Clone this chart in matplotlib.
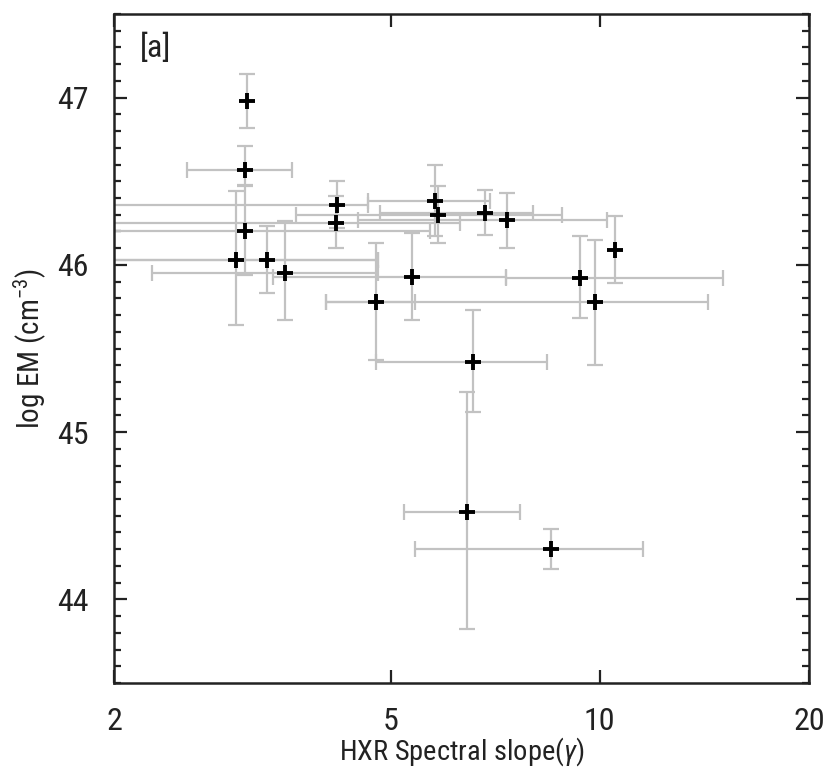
import numpy as np
import matplotlib
matplotlib.use("Agg")
import matplotlib.pyplot as plt
from matplotlib.ticker import FixedLocator, NullLocator, MultipleLocator

plt.rcParams['font.family'] = ['Roboto Condensed', 'DejaVu Sans']
plt.rcParams['mathtext.fontset'] = 'custom'
plt.rcParams['mathtext.rm'] = 'Roboto Condensed'
plt.rcParams['mathtext.it'] = 'Roboto Condensed:italic'

# HXR spectral slope (gamma) and its error range
gamma    = [3.11, 3.09, 4.18, 4.17, 3.09, 3.00, 3.32, 3.52, 5.79, 5.86,
            6.84, 7.35, 10.52, 9.37, 5.36, 4.76, 9.84, 6.56, 6.45, 8.50]
gamma_lo = [3.11, 2.55, 1.50, 1.50, 1.50, 1.50, 1.50, 2.27, 4.64, 3.66,
            4.82, 4.49, 10.52, 7.33, 3.39, 4.04, 4.04, 4.76, 5.23, 5.43]
gamma_hi = [3.11, 3.61, 4.64, 6.29, 5.70, 4.80, 4.80, 4.80, 6.95, 8.82,
            8.02, 10.24, 10.52, 15.05, 7.33, 5.42, 14.33, 8.39, 7.68, 11.55]
# log emission measure and its error range
logem    = [46.98, 46.57, 46.36, 46.25, 46.20, 46.03, 46.03, 45.95, 46.38, 46.30,
            46.31, 46.27, 46.09, 45.92, 45.93, 45.78, 45.78, 45.42, 44.52, 44.30]
logem_lo = [46.82, 46.47, 46.22, 46.10, 45.94, 45.64, 45.83, 45.67, 46.17, 46.13,
            46.18, 46.10, 45.89, 45.68, 45.67, 45.43, 45.40, 45.12, 43.82, 44.18]
logem_hi = [47.14, 46.71, 46.50, 46.41, 46.48, 46.44, 46.23, 46.26, 46.60, 46.47,
            46.45, 46.43, 46.29, 46.17, 46.19, 46.13, 46.15, 45.73, 45.24, 44.42]

x = np.array(gamma); xl = np.array(gamma_lo); xh = np.array(gamma_hi)
y = np.array(logem); yl = np.array(logem_lo); yh = np.array(logem_hi)

fig = plt.figure(figsize=(8.29, 7.71), dpi=100)
ax = fig.add_axes([114/829, 1-683/771, 695/829, 669/771])

ecol = '#c2c2c2'
# vertical error bars
ax.errorbar(x, y, yerr=[y - yl, yh - y], fmt='none', ecolor=ecol,
            elinewidth=1.6, capsize=6, capthick=1.6, zorder=2)
# horizontal error bars (only where an error exists)
m = (xh - xl) > 0
ax.errorbar(x[m], y[m], xerr=[x[m] - xl[m], xh[m] - x[m]], fmt='none', ecolor=ecol,
            elinewidth=1.6, capsize=6, capthick=1.6, zorder=2)
ax.plot(x, y, linestyle='none', marker='+', color='black', markersize=12,
        markeredgewidth=2.8, zorder=3)

ax.set_xscale('log')
ax.set_xlim(2, 20)
ax.set_ylim(43.5, 47.5)
ax.xaxis.set_major_locator(FixedLocator([2, 5, 10, 20]))
ax.xaxis.set_minor_locator(NullLocator())
ax.set_xticklabels(['2', '5', '10', '20'])
ax.yaxis.set_major_locator(FixedLocator([44, 45, 46, 47]))
ax.yaxis.set_minor_locator(MultipleLocator(0.1))

ax.tick_params(which='both', direction='in', top=True, right=True,
               width=1.6, labelsize=23, color='#222222', labelcolor='#222222')
ax.tick_params(which='major', length=9.5)
ax.tick_params(which='minor', length=5)
ax.tick_params(axis='y', which='major', pad=18)
ax.tick_params(axis='x', which='major', pad=17)
for s in ax.spines.values():
    s.set_linewidth(1.8)
    s.set_color('#222222')

ax.set_xlabel(r'HXR Spectral slope($\gamma$)', fontsize=20.5, labelpad=0,
              color='#222222')
ax.set_ylabel(r'log EM (cm$^{-3}$)', fontsize=21, labelpad=6, color='#222222')
ax.text(0.037, 0.95, '[a]', transform=ax.transAxes, fontsize=23,
        va='center', ha='left', color='#222222')

fig.savefig('out.png', dpi=100)
